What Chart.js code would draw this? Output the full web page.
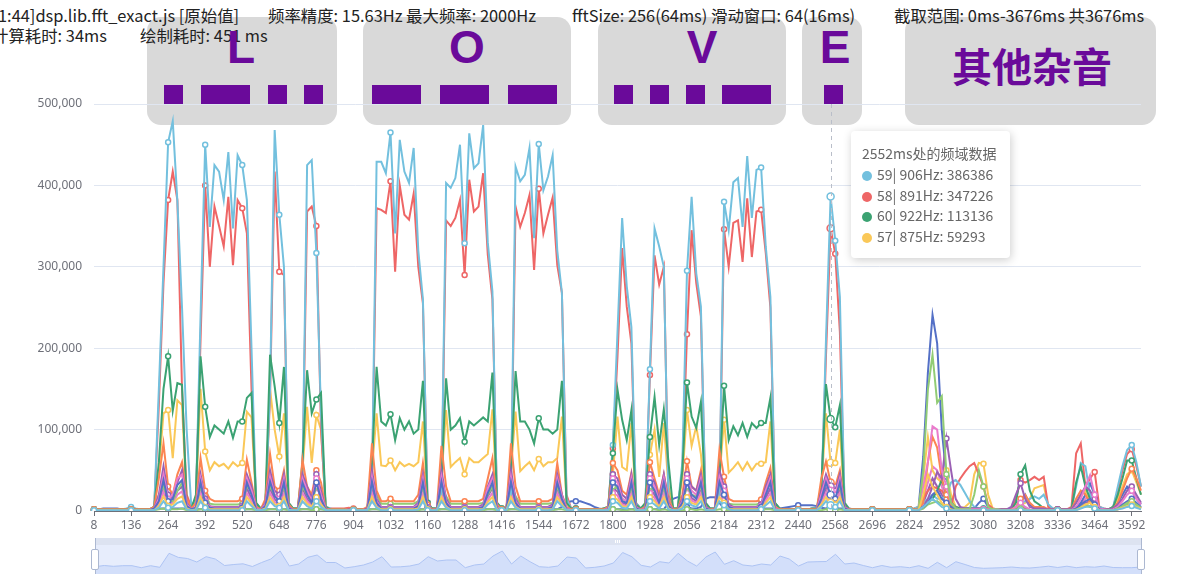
<!DOCTYPE html>
<html>
<head>
<meta charset="utf-8">
<title>fft_exact</title>
<script src="https://cdn.jsdelivr.net/npm/chart.js@4.4.1/dist/chart.umd.min.js"></script>
<style>
  html, body { margin: 0; padding: 0; background: #fff; }
  body { width: 1187px; height: 586px; position: relative; overflow: hidden;
         font-family: "Noto Sans CJK SC", "Noto Sans", sans-serif; }
  .hdr { position: absolute; font-size: 16.4px; line-height: 20px; color: #222; white-space: nowrap; z-index: 2; }
  .box { position: absolute; top: 17px; height: 108px; background: #d9d9d9; border-radius: 14px; z-index: 1; }
  .letter { position: absolute; top: 24px; z-index: 3; color: #6a0a9a; font-weight: bold; font-size: 46px;
            line-height: 46px; font-family: "Liberation Sans", Arial, sans-serif; transform: translateX(-50%); }
  .noise { position: absolute; left: 952px; top: 45px; z-index: 3; color: #6a0a9a; font-weight: bold;
           font-size: 40px; line-height: 40px; font-family: "Noto Sans CJK SC", sans-serif; }
  .bar { position: absolute; top: 85px; height: 19px; background: #6a0a9a; z-index: 3; }
  #main { position: absolute; left: 0; top: 0; z-index: 4; }
  #tip { position: absolute; left: 851px; top: 131px; width: 159px; height: 127px; box-sizing: border-box;
         padding: 12px 0 0 11px; background: #fff; border-radius: 4px; z-index: 6;
         box-shadow: 1px 2px 10px rgba(0,0,0,0.2); font-size: 14px; line-height: 20.8px; color: #666;
         font-family: "Noto Sans CJK SC", "Noto Sans", sans-serif; white-space: nowrap; }
  #tip .dot { display: inline-block; width: 10px; height: 10px; border-radius: 5px; margin-right: 5px; vertical-align: -1px; }
  #slider { position: absolute; left: 95px; top: 545px; width: 1046px; height: 29px; background: #e7edfc; z-index: 1; }
  #band { position: absolute; left: 95px; top: 538px; width: 1046px; height: 7px; background: #dde3f1; z-index: 1; }
  #grip { position: absolute; left: 615px; top: 540px; width: 6px; height: 3px; z-index: 2;
          background: repeating-linear-gradient(90deg, #fff 0 1px, transparent 1px 2px); }
  #shadow { position: absolute; left: 95px; top: 545px; z-index: 2; }
  .edge { position: absolute; top: 538px; width: 1px; height: 36px; background: #acb8d1; z-index: 3; }
  .handle { position: absolute; top: 549px; width: 6px; height: 19px; background: #fff; border: 1px solid #acb8d1;
            border-radius: 2px; z-index: 4; }
</style>
</head>
<body>

<div class="box" style="left:147px;width:190px"></div>
<div class="box" style="left:363px;width:208px"></div>
<div class="box" style="left:598px;width:188px"></div>
<div class="box" style="left:802px;width:60px"></div>
<div class="box" style="left:905px;width:251px"></div>

<div class="hdr" style="left:-2px;top:5px">1:44]dsp.lib.fft_exact.js [原始值]</div>
<div class="hdr" style="left:268px;top:5px">频率精度: 15.63Hz 最大频率: 2000Hz</div>
<div class="hdr" style="left:572px;top:5px">fftSize: 256(64ms) 滑动窗口: 64(16ms)</div>
<div class="hdr" style="left:894px;top:5px">截取范围: 0ms-3676ms 共3676ms</div>
<div class="hdr" style="left:-8px;top:25px">计算耗时: 34ms</div>
<div class="hdr" style="left:140px;top:25px">绘制耗时: 451 ms</div>

<div class="letter" style="left:241px">L</div>
<div class="letter" style="left:467px">O</div>
<div class="letter" style="left:702px">V</div>
<div class="letter" style="left:835px">E</div>
<div class="noise">其他杂音</div>

<div class="bar" style="left:164px;width:19px"></div>
<div class="bar" style="left:201px;width:49px"></div>
<div class="bar" style="left:268px;width:19px"></div>
<div class="bar" style="left:304px;width:19px"></div>
<div class="bar" style="left:372px;width:49px"></div>
<div class="bar" style="left:440px;width:49px"></div>
<div class="bar" style="left:508px;width:49px"></div>
<div class="bar" style="left:614px;width:19px"></div>
<div class="bar" style="left:650px;width:19px"></div>
<div class="bar" style="left:686px;width:19px"></div>
<div class="bar" style="left:722px;width:49px"></div>
<div class="bar" style="left:824px;width:19px"></div>

<canvas id="main" width="1187" height="545"></canvas>
<div id="tip"></div>

<div id="band"></div>
<div id="grip"></div>
<div id="slider"></div>
<canvas id="shadow" width="1046" height="29"></canvas>
<div class="edge" style="left:95px"></div>
<div class="edge" style="left:1141px"></div>
<div class="handle" style="left:91px"></div>
<div class="handle" style="left:1137px"></div>

<script>
// ----- data (values in thousands, one per 16ms window) -----
const categories = []
for (let t = 8; t <= 3624; t += 16) categories.push(String(t))

// 59| 906Hz
const bin59 = [
  2,2,2,2,2,2,2,3,5,3,2,2,2,
  5,150,300,453,479,380,250,100,5,
  15,240,450,349,425,417,382,441,347,437,425,382,200,10,3,
  5,150,468,364,300,10,3,3,
  40,425,431,317,120,5,
  3,2,2,2,2,2,2,2,3,
  30,429,429,415,465,341,456,417,403,446,320,260,10,3,
  3,20,403,397,409,450,329,464,421,427,474,330,270,10,3,
  3,20,423,405,413,446,335,451,394,411,437,320,268,15,3,3,
  2,2,2,2,2,3,
  5,81,220,360,276,226,10,3,
  5,174,347,325,300,15,3,3,
  60,295,386,292,251,10,3,
  3,20,380,345,404,409,349,436,360,419,422,325,263,10,
  3,2,2,2,2,2,2,3,3,
  15,210,386.386,332,263,10,
  3,2,2,2,2,2,2,2,2,2,2,2,2,2,3,
  5,10,15,20,15,15,20,35,38,32,22,12,5,3,3,3,2,2,
  2,2,2,5,10,12,15,18,15,20,8,3,2,2,2,3,
  30,59,55,20,10,5,3,2,
  5,30,55,75,81,60,30
]

// 58| 891Hz
const bin58 = [
  2,2,2,2,2,2,2,2,3,2,2,2,2,
  5,130,280,382,417,382,150,20,5,
  15,210,400,300,374,350,325,386,302,382,372,341,150,8,3,
  5,140,417,294,290,8,3,3,
  40,368,374,350,100,5,
  3,3,3,3,4,3,2,2,3,
  30,372,370,366,405,294,400,364,358,390,300,255,10,3,
  3,20,357,350,360,382,290,407,368,374,415,315,260,10,3,
  3,20,374,349,366,388,296,396,341,364,385,302,268,20,3,3,
  2,2,2,2,2,3,
  5,77,190,323,251,206,10,3,
  5,167,314,278,300,20,3,3,
  50,217,345,280,239,10,3,
  3,20,346,300,354,357,306,384,312,368,370,317,250,10,
  3,2,2,2,2,2,2,3,3,
  15,190,347.226,316,220,10,
  3,2,2,2,2,2,2,2,2,2,2,2,2,2,3,
  5,15,25,30,28,25,15,5,30,40,48,55,59,45,30,8,3,2,
  2,2,2,15,38,35,38,42,38,42,5,3,2,2,2,5,
  71,83,30,40,48,5,3,2,
  5,25,50,70,76,55,30
]

// 60| 922Hz
const bin60 = [
  2,2,2,2,2,2,2,2,2,2,2,2,2,
  5,60,150,190,123,157,155,10,3,
  20,190,128,91,105,100,95,110,90,110,110,139,145,10,3,
  10,192,153,108,177,10,3,3,
  60,173,120,137,145,5,
  2,2,2,2,2,2,2,2,2,
  60,177,110,105,119,87,114,100,110,95,100,160,10,3,
  3,40,163,100,105,114,85,110,105,110,115,110,170,10,3,
  3,50,172,110,110,100,83,114,100,100,95,100,160,10,3,3,
  2,2,2,2,2,3,
  5,71,149,112,87,124,8,3,
  10,91,140,81,125,60,3,3,
  50,158,116,102,134,10,3,
  3,40,154,87,104,93,108,91,108,102,108,108,139,10,
  3,2,2,2,2,2,2,3,3,
  30,156,113.136,103,130,10,
  2,2,2,2,2,2,2,2,2,2,2,2,2,2,2,
  3,5,10,15,25,38,20,10,5,3,3,3,3,3,3,3,2,2,
  2,2,2,10,45,56,25,12,8,3,2,2,2,2,2,3,
  35,55,30,15,8,3,2,2,
  5,20,40,62,62,40,20
]

// 57| 875Hz
const bin57 = [
  2,2,2,2,2,2,2,2,2,2,2,2,2,
  5,50,120,124,65,136,130,10,3,
  15,150,73,50,60,55,58,52,60,55,59,122,115,8,3,
  10,150,100,67,120,10,3,3,
  50,128,59,118,100,5,
  2,2,2,2,2,2,2,2,2,
  50,120,56,55,62,50,60,55,58,55,60,110,10,3,
  3,40,124,54,60,65,45,65,60,60,65,70,125,10,3,
  3,50,122,49,55,60,50,64,55,60,60,65,116,10,3,3,
  2,2,2,2,2,2,
  5,45,116,54,50,108,5,3,
  8,69,100,42,108,30,3,3,
  40,124,80,104,70,5,3,
  3,40,112,47,53,60,50,60,50,58,58,60,110,8,
  2,2,2,2,2,2,2,2,2,
  25,120,59.293,59,100,5,
  2,2,2,2,2,2,2,2,2,2,2,2,2,2,2,
  5,40,91,50,40,35,50,20,5,3,5,10,45,59,58,20,3,2,
  2,2,2,5,8,10,15,28,30,32,5,2,2,2,2,3,
  10,20,25,10,5,3,2,2,
  5,15,30,45,50,35,20
]

// 61| 938Hz
const bin61 = [
  2,2,2,2,2,2,2,2,2,2,2,2,2,
  5,40,83,30,20,45,60,15,3,
  10,65,25,15,12,12,12,12,12,12,15,63,35,5,2,
  15,70,30,25,50,8,2,2,
  63,30,20,50,35,3,
  2,2,2,2,3,2,2,2,5,
  83,25,12,12,15,12,12,12,12,12,20,59,8,2,
  3,80,30,12,12,12,12,12,12,12,15,40,65,8,2,
  3,83,30,12,12,12,12,12,12,12,15,59,20,5,2,2,
  2,2,2,2,2,2,
  5,59,50,25,20,47,5,2,
  5,60,40,20,45,15,2,2,
  20,61,30,25,50,5,2,
  3,75,42,15,12,12,12,12,12,12,14,35,53,5,
  2,2,2,2,2,2,2,2,2,
  40,61,35,30,50,5,
  2,2,2,2,2,2,2,2,2,2,2,2,2,2,2,
  3,10,60,91,78,40,20,8,3,2,2,2,2,2,2,2,2,2,
  2,2,2,5,15,20,10,5,5,5,2,2,2,2,2,2,
  15,25,20,10,5,2,2,2,
  3,10,25,40,52,40,25
]

// 62| 953Hz
const bin62 = [
  1,1,1,1,1,1,1,1,1,1,1,1,1,
  3,20,55,20,15,35,50,10,2,
  5,45,15,6,5,5,5,5,5,5,6,45,30,3,1,
  10,50,25,20,45,5,1,1,
  45,30,15,45,25,2,
  1,1,1,1,2,1,1,1,3,
  50,15,5,5,5,5,5,5,5,5,10,45,5,1,
  2,50,15,5,5,5,5,5,5,5,8,30,45,5,1,
  2,50,15,5,5,5,5,5,5,5,8,45,20,3,1,1,
  1,1,1,1,1,1,
  3,45,40,20,15,45,5,1,
  3,45,35,15,45,10,1,1,
  15,45,30,25,45,5,1,
  2,50,30,8,5,5,5,5,5,5,8,30,45,3,
  1,1,1,1,1,1,1,1,1,
  25,45,30,25,45,5,
  1,1,1,1,1,1,1,1,1,1,1,1,1,1,1,
  2,5,15,30,48,40,89,50,15,5,3,3,3,3,2,2,2,2,
  2,2,5,20,34,15,5,3,3,3,2,2,2,2,2,2,
  10,20,30,25,15,3,2,2,
  3,8,15,25,30,20,10
]

// 63| 969Hz
const bin63 = [
  1,1,1,1,1,1,1,1,1,1,1,1,1,
  3,15,45,15,20,40,45,8,2,
  5,40,12,5,4,4,4,4,4,4,5,40,25,3,1,
  8,42,20,15,40,4,1,1,
  40,25,12,40,20,2,
  1,1,1,1,1,1,1,1,1,
  42,12,4,4,4,4,4,4,4,4,8,40,4,1,
  2,42,12,4,4,4,4,4,4,4,6,28,40,4,1,
  2,42,12,4,4,4,4,4,4,4,6,40,18,3,1,1,
  1,1,1,1,1,1,
  3,40,35,15,12,40,4,1,
  3,40,30,12,40,8,1,1,
  12,40,25,20,40,4,1,
  2,42,25,6,4,4,4,4,4,4,6,25,40,3,
  1,1,1,1,1,1,1,1,1,
  20,40,25,20,40,4,
  1,1,1,1,1,1,1,1,1,1,1,1,1,1,1,
  2,30,60,104,100,50,30,10,3,2,2,2,2,2,2,2,2,2,
  1,1,1,5,10,5,2,1,1,1,1,1,1,1,1,1,
  5,15,30,44,20,3,2,1,
  2,5,12,20,25,15,8
]

// 64| 984Hz
const bin64 = [
  1,1,1,1,1,1,1,1,1,1,1,1,1,
  3,12,38,12,15,32,38,6,2,
  4,35,10,4,3,3,3,3,3,3,4,35,20,2,1,
  6,36,18,12,35,3,1,1,
  35,20,10,35,15,2,
  1,1,1,1,1,1,1,1,1,
  36,10,3,3,3,3,3,3,3,3,6,35,3,1,
  2,36,10,3,3,3,3,3,3,3,5,22,35,3,1,
  2,36,10,3,3,3,3,3,3,3,5,35,15,2,1,1,
  1,1,1,1,1,1,
  2,35,30,12,10,35,3,1,
  2,35,25,10,35,6,1,1,
  10,35,20,15,35,3,1,
  2,36,20,5,3,3,3,3,3,3,5,20,35,2,
  1,1,1,1,1,1,1,1,1,
  15,35,20,15,35,3,
  1,1,1,1,1,1,1,1,1,1,1,1,1,1,1,
  2,5,10,20,25,15,10,5,2,1,1,1,1,1,1,1,1,1,
  1,1,1,1,1,1,1,1,1,1,1,1,1,1,1,1,
  3,8,12,15,8,2,1,1,
  1,3,8,12,15,10,5
]

// 56| 859Hz
const bin56 = [
  1,1,1,1,1,1,1,1,1,1,1,1,1,
  3,20,30,15,12,25,35,5,2,
  4,30,20,9,8,8,8,8,8,8,9,30,25,3,1,
  8,30,20,15,30,3,1,1,
  30,20,10,30,20,2,
  1,1,1,1,1,1,1,1,1,
  35,20,9,9,9,9,9,9,9,9,12,30,3,1,
  2,30,18,9,9,9,9,9,9,9,10,20,30,3,1,
  2,35,18,9,9,9,9,9,9,9,10,30,15,2,1,1,
  1,1,1,1,1,1,
  2,30,28,15,12,30,3,1,
  2,30,25,12,30,5,1,1,
  10,30,20,18,30,3,1,
  2,35,20,9,8,8,8,8,8,8,10,25,35,2,
  1,1,1,1,1,1,1,1,1,
  20,38,25,20,30,3,
  1,1,1,1,1,1,1,1,1,1,1,1,1,1,1,
  1,3,8,10,12,8,5,3,2,2,2,2,2,2,2,2,1,1,
  1,1,1,1,1,1,1,1,1,1,1,1,1,1,1,1,
  2,5,8,6,3,1,1,1,
  1,2,5,8,10,6,3
]

// 55| 844Hz
const bin55 = [
  2,2,3,3,3,3,2,2,2,2,2,2,2,
  2,3,3,3,3,3,3,3,2,
  2,2,2,2,2,2,2,2,2,2,2,2,2,2,2,
  2,2,2,2,2,2,2,2,
  2,2,2,2,2,2,
  2,2,2,2,2,2,2,2,2,
  2,2,2,2,2,2,2,2,2,2,2,2,2,2,
  2,2,2,2,2,2,2,2,2,2,2,2,2,2,2,
  2,2,2,2,2,2,2,2,2,2,2,2,5,10,12,12,
  12,10,8,5,3,2,
  2,2,2,2,2,2,2,2,
  2,2,2,2,2,10,15,17,
  17,5,3,3,5,15,17,
  17,10,3,3,3,3,3,3,3,3,3,3,3,3,
  3,4,5,6,7,7,7,7,6,
  4,3,3,3,3,3,
  2,2,2,2,2,2,2,2,2,2,2,2,2,2,2,
  5,67,170,241,206,100,42,15,5,3,3,3,3,10,15,5,2,2,
  2,2,2,5,10,20,8,3,2,2,2,2,2,2,2,2,
  5,10,20,34,20,5,2,2,
  3,10,20,30,25,15,8
]

// 54| 828Hz
const bin54 = [
  1,1,1,1,1,1,1,1,1,1,1,1,1,
  2,8,24,8,10,20,24,4,1,
  2,22,6,2,2,2,2,2,2,2,2,22,12,1,1,
  4,22,11,8,22,2,1,1,
  22,12,6,22,10,1,
  1,1,1,1,1,1,1,1,1,
  22,6,2,2,2,2,2,2,2,2,4,22,2,1,
  1,22,6,2,2,2,2,2,2,2,3,14,22,2,1,
  1,22,6,2,2,2,2,2,2,2,3,22,10,1,1,1,
  1,1,1,1,1,1,
  1,22,19,8,6,22,2,1,
  1,22,16,6,22,4,1,1,
  6,22,13,10,22,2,1,
  1,22,13,3,2,2,2,2,2,2,3,13,22,1,
  1,1,1,1,1,1,1,1,1,
  10,22,13,10,22,2,
  1,1,1,1,1,1,1,1,1,1,1,1,1,1,1,
  1,15,35,55,50,30,15,5,2,1,1,1,1,1,1,1,1,1,
  1,1,1,1,1,1,1,1,1,1,1,1,1,1,1,1,
  2,8,15,22,10,2,1,1,
  1,3,6,10,12,8,4
]

// 53| 813Hz
const bin53 = [
  1,1,1,1,1,1,1,1,1,1,1,1,1,
  2,10,30,10,12,25,30,5,1,
  3,28,8,3,2,2,2,2,2,2,3,28,15,2,1,
  5,28,14,10,28,2,1,1,
  28,15,8,28,12,1,
  1,1,1,1,1,1,1,1,1,
  28,8,2,2,2,2,2,2,2,2,5,28,2,1,
  1,28,8,2,2,2,2,2,2,2,4,18,28,2,1,
  1,28,8,2,2,2,2,2,2,2,4,28,12,2,1,1,
  1,1,1,1,1,1,
  2,28,24,10,8,28,2,1,
  2,28,20,8,28,5,1,1,
  8,28,16,12,28,2,1,
  1,28,16,4,2,2,2,2,2,2,4,16,28,1,
  1,1,1,1,1,1,1,1,1,
  12,28,16,12,28,2,
  1,1,1,1,1,1,1,1,1,1,1,1,1,1,1,
  1,10,25,40,30,20,12,6,2,1,1,1,1,1,1,1,1,1,
  1,1,1,3,6,3,1,1,1,1,1,1,1,1,1,1,
  2,6,10,12,6,1,1,1,
  1,2,6,10,12,8,4
]

// 66| 1016Hz
const bin66 = [
  1,1,1,1,1,1,1,1,1,1,1,1,1,
  1,6,18,6,8,15,18,3,1,
  2,17,5,2,2,2,2,2,2,2,2,17,9,1,1,
  3,17,8,6,17,1,1,1,
  17,9,5,17,8,1,
  1,1,1,1,1,1,1,1,1,
  17,5,2,2,2,2,2,2,2,2,3,17,2,1,
  1,17,5,2,2,2,2,2,2,2,2,11,17,2,1,
  1,17,5,2,2,2,2,2,2,2,2,17,8,1,1,1,
  1,1,1,1,1,1,
  1,17,14,6,5,17,1,1,
  1,17,12,5,17,3,1,1,
  5,17,10,8,17,1,1,
  1,17,10,2,2,2,2,2,2,2,2,10,17,1,
  1,1,1,1,1,1,1,1,1,
  8,17,10,8,17,1,
  1,1,1,1,1,1,1,1,1,1,1,1,1,1,1,
  1,20,45,30,20,10,5,2,1,1,1,1,1,1,1,1,1,1,
  1,1,1,1,1,1,1,1,1,1,1,1,1,1,1,1,
  1,4,8,10,5,1,1,1,
  1,2,4,6,8,5,3
]

// 68| 1047Hz
const bin68 = [
  1,1,1,1,1,1,1,1,1,1,1,1,1,
  1,4,12,4,5,10,12,2,1,
  1,12,4,1,1,1,1,1,1,1,1,12,6,1,1,
  2,12,6,4,12,1,1,1,
  12,6,3,12,5,1,
  1,1,1,1,1,1,1,1,1,
  12,4,1,1,1,1,1,1,1,1,2,12,1,1,
  1,12,4,1,1,1,1,1,1,1,2,8,12,1,1,
  1,12,4,1,1,1,1,1,1,1,2,12,6,1,1,1,
  1,1,1,1,1,1,
  1,12,10,4,3,12,1,1,
  1,12,8,3,12,2,1,1,
  3,12,7,5,12,1,1,
  1,12,7,2,1,1,1,1,1,1,2,7,12,1,
  1,1,1,1,1,1,1,1,1,
  5,12,7,5,12,1,
  1,1,1,1,1,1,1,1,1,1,1,1,1,1,1,
  1,5,10,15,10,5,3,1,1,1,1,1,1,1,1,1,1,1,
  1,1,1,1,1,1,1,1,1,1,1,1,1,1,1,1,
  1,3,5,6,3,1,1,1,
  1,2,3,5,6,4,2
]

// 65| 1000Hz
const bin65 = [
  1,1,1,1,1,1,1,1,1,1,1,1,1,
  1,2,3,2,2,2,3,1,1,
  1,2,2,1,1,1,1,1,1,1,1,2,2,1,1,
  1,2,2,2,2,1,1,1,
  2,2,1,2,2,1,
  1,1,1,1,1,1,1,1,1,
  2,2,1,1,1,1,1,1,1,1,1,2,1,1,
  1,2,2,1,1,1,1,1,1,1,1,2,2,1,1,
  1,2,2,1,1,1,1,1,1,1,1,2,2,1,1,1,
  1,1,1,1,1,1,
  1,2,2,1,1,2,1,1,
  1,2,2,1,2,1,1,1,
  1,2,2,1,2,1,1,
  1,2,2,1,1,1,1,1,1,1,1,2,2,1,
  1,1,1,1,1,1,1,1,1,
  1,2,2,1,2,1,
  1,1,1,1,1,1,1,1,1,1,1,1,1,1,1,
  2,50,149,192,133,141,45,10,3,2,2,2,20,50,30,5,2,2,
  1,1,1,2,3,2,1,1,1,1,1,1,1,1,1,1,
  2,4,6,5,3,1,1,1,
  1,3,6,10,12,8,4
]

// data zoom shadow, one value per two windows
const shadowValues = [
  7.3,8.5,7.7,8.3,8.3,6.3,8.3,6.7,20.7,16.6,
  15.5,12,17.3,15,8.5,9.5,10.2,7.5,11.5,15,
  23,8,10,16.7,19,11.5,11.5,6,7.3,9,
  12,17.3,7,7.2,8,10,17.3,13,14,14,
  6.3,9,10,18,23,10,18,12.3,7.3,6.7,
  8,17,16,6,6.7,8,11,21.5,17.3,8.7,
  7,12.3,11,20.7,13,8,17,22,9.7,13.3,
  9,8,10,9,18,15,8,12,12.3,12.5,
  19.7,10,11,8.5,6.3,8.5,6.7,7.3,6.3,8.3,
  5.7,11.7,6.3,12.3,9.5,6.5,5.7,6,6.3,7,
  6.2,6,6.8,7.8,6.5,7.8,6.3,7.3,6.8,8,
  6.5,6.3,6.3,7
]

// ----- helpers -----
const HOVER = 159
const palette = ['#5470c6', '#91cc75', '#fac858', '#ee6666', '#73c0de', '#3ba272', '#fc8452', '#9a60b4', '#ea7ccc']
const colorOf = n => palette[(n - 1) % 9]
const nameOf = n => `${n}| ${Math.round((n - 1) * 15.625)}Hz`

// later bins sit on top, like the original
const series = [
  { n: 68, data: bin68 }, { n: 66, data: bin66 }, { n: 65, data: bin65 },
  { n: 64, data: bin64 }, { n: 63, data: bin63 }, { n: 62, data: bin62 },
  { n: 61, data: bin61 }, { n: 60, data: bin60 }, { n: 59, data: bin59 },
  { n: 58, data: bin58 }, { n: 57, data: bin57 }, { n: 56, data: bin56 },
  { n: 55, data: bin55 }, { n: 54, data: bin54 }, { n: 53, data: bin53 },
]

Chart.defaults.font.family = '"Noto Sans", "Noto Sans CJK SC", sans-serif'

const axisPointer = {
  id: 'axisPointer',
  afterDatasetsDraw(chart) {
    const { ctx, chartArea, scales } = chart
    const x = Math.round(scales.x.getPixelForValue(HOVER)) + 0.5
    ctx.save()
    ctx.strokeStyle = '#b9bec9'
    ctx.lineWidth = 1
    ctx.setLineDash([4, 4])
    ctx.beginPath()
    ctx.moveTo(x, chartArea.top)
    ctx.lineTo(x, chartArea.bottom)
    ctx.stroke()
    ctx.restore()
  },
}

// ----- main chart -----
new Chart(document.getElementById('main'), {
  type: 'line',
  data: {
    labels: categories,
    datasets: series.map(s => ({
      label: nameOf(s.n),
      data: s.data.map(v => Math.round(v * 1000)),
      borderColor: colorOf(s.n),
      backgroundColor: colorOf(s.n),
      borderWidth: 2,
      tension: 0,
      fill: false,
      pointRadius: c => (c.dataIndex === HOVER ? 3.5 : c.dataIndex % 8 === 0 ? 2.5 : 0),
      pointBorderWidth: 1.5,
      pointBackgroundColor: '#fff',
      pointBorderColor: colorOf(s.n),
    })),
  },
  options: {
    responsive: false,
    animation: false,
    events: [],
    layout: { padding: { top: 104, right: 46, left: 0, bottom: 0 } },
    plugins: { legend: { display: false }, tooltip: { enabled: false } },
    scales: {
      x: {
        offset: false,
        grid: { drawOnChartArea: false, drawTicks: true, tickLength: 5, color: '#6e7079' },
        border: { color: '#6e7079' },
        ticks: {
          autoSkip: false, maxRotation: 0, color: '#6e7079', font: { size: 12 }, padding: 2,
          callback: (v, i) => (i % 8 === 0 ? categories[i] : null),
        },
        afterFit: s => { s.height = 34 },
      },
      y: {
        min: 0,
        max: 500000,
        ticks: { stepSize: 100000, color: '#6e7079', font: { size: 12 }, padding: 12 },
        grid: { color: '#e0e6f1', drawTicks: false },
        border: { display: false },
        afterFit: s => { s.width = 94 },
      },
    },
  },
  plugins: [axisPointer],
})

// ----- tooltip at the hovered window -----
const rows = series
  .map(s => ({ n: s.n, v: Math.round(s.data[HOVER] * 1000) }))
  .sort((a, b) => b.v - a.v)
  .slice(0, 4)
document.getElementById('tip').innerHTML =
  `<div>${categories[HOVER]}ms处的频域数据</div>` +
  rows.map(r => `<div><span class="dot" style="background:${colorOf(r.n)}"></span>${nameOf(r.n)}: ${r.v}</div>`).join('')

// ----- data zoom shadow -----
new Chart(document.getElementById('shadow'), {
  type: 'line',
  data: {
    labels: categories.filter((c, i) => i % 2 === 0),
    datasets: [{
      data: shadowValues,
      borderColor: '#adc3f3',
      borderWidth: 1,
      backgroundColor: '#d3dffa',
      fill: 'origin',
      pointRadius: 0,
      tension: 0,
    }],
  },
  options: {
    responsive: false,
    animation: false,
    events: [],
    layout: { padding: 0 },
    plugins: { legend: { display: false }, tooltip: { enabled: false } },
    scales: {
      x: { display: false, offset: false },
      y: { display: false, min: 0, max: 29 },
    },
  },
})
</script>
</body>
</html>
